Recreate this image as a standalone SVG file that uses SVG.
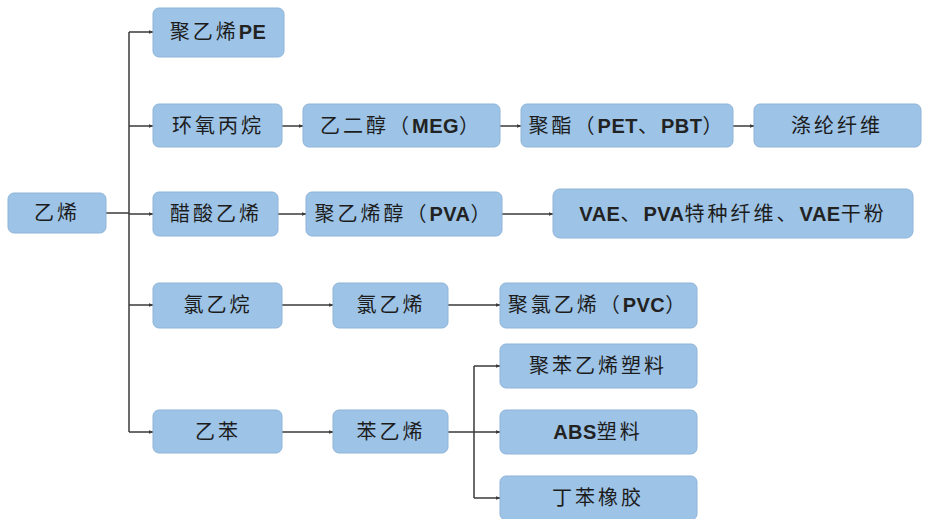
<svg xmlns="http://www.w3.org/2000/svg" width="930" height="519" viewBox="0 0 930 519">
<style>
.box{fill:#9DC3E6;stroke:#8FB4D8;stroke-width:1}
.t{font-family:"Liberation Sans","Noto Sans CJK SC",sans-serif;font-size:20px;fill:#1c1c1c;text-anchor:middle;dominant-baseline:central;letter-spacing:3px}
.l{font-weight:bold;letter-spacing:0.5px;fill:#222}
.c{fill:none;stroke:#3a3a3a;stroke-width:1.5}
</style>
<defs>
<marker id="a" viewBox="0 0 8 8" refX="7" refY="4" markerWidth="5" markerHeight="5" orient="auto" markerUnits="userSpaceOnUse">
<path d="M0,1 L8,4 L0,7 Z" fill="#3a3a3a"/>
</marker>
</defs>
<rect width="930" height="519" fill="#fff"/>
<g id="connectors">
<path class="c" d="M106,213 H129"/>
<path class="c" d="M129,32 V432"/>
<path class="c" d="M129,32 H153" marker-end="url(#a)"/>
<path class="c" d="M129,126 H153" marker-end="url(#a)"/>
<path class="c" d="M129,214 H153" marker-end="url(#a)"/>
<path class="c" d="M129,305 H153" marker-end="url(#a)"/>
<path class="c" d="M129,432 H153" marker-end="url(#a)"/>
<path class="c" d="M282,126 H303" marker-end="url(#a)"/>
<path class="c" d="M500,126 H521" marker-end="url(#a)"/>
<path class="c" d="M733,126 H754" marker-end="url(#a)"/>
<path class="c" d="M278,214 H306" marker-end="url(#a)"/>
<path class="c" d="M502,214 H553" marker-end="url(#a)"/>
<path class="c" d="M282,305 H333" marker-end="url(#a)"/>
<path class="c" d="M448,305 H500" marker-end="url(#a)"/>
<path class="c" d="M282,432 H333" marker-end="url(#a)"/>
<path class="c" d="M448,432 H474"/>
<path class="c" d="M474,366 V498"/>
<path class="c" d="M474,366 H500" marker-end="url(#a)"/>
<path class="c" d="M474,432 H500" marker-end="url(#a)"/>
<path class="c" d="M474,498 H500" marker-end="url(#a)"/>
</g>
<g id="n_yixi"><rect class="box" x="8" y="193" width="98" height="40" rx="6"/><text class="t" x="57" y="213">乙烯</text></g>
<g id="n_pe"><rect class="box" x="153" y="8" width="131" height="49" rx="6"/><text class="t" x="218" y="32">聚乙烯<tspan class="l">PE</tspan></text></g>
<g id="n_hybw"><rect class="box" x="153" y="104" width="129" height="43" rx="6"/><text class="t" x="218" y="126">环氧丙烷</text></g>
<g id="n_meg"><rect class="box" x="303" y="104" width="197" height="43" rx="6"/><text class="t" x="401" y="126">乙二醇（<tspan class="l">MEG</tspan>）</text></g>
<g id="n_pet"><rect class="box" x="521" y="104" width="212" height="43" rx="6"/><text class="t" x="627" y="126">聚酯（<tspan class="l">PET</tspan>、<tspan class="l">PBT</tspan>）</text></g>
<g id="n_dl"><rect class="box" x="754" y="104" width="167" height="43" rx="6"/><text class="t" x="837" y="126">涤纶纤维</text></g>
<g id="n_csyx"><rect class="box" x="153" y="192" width="125" height="44" rx="6"/><text class="t" x="216" y="214">醋酸乙烯</text></g>
<g id="n_pva"><rect class="box" x="306" y="192" width="196" height="44" rx="6"/><text class="t" x="404" y="214">聚乙烯醇（<tspan class="l">PVA</tspan>）</text></g>
<g id="n_vae"><rect class="box" x="553" y="189" width="360" height="49" rx="7"/><text class="t" x="733" y="214"><tspan class="l">VAE</tspan>、<tspan class="l">PVA</tspan>特种纤维、<tspan class="l">VAE</tspan>干粉</text></g>
<g id="n_lyw"><rect class="box" x="153" y="283" width="129" height="45" rx="6"/><text class="t" x="218" y="305">氯乙烷</text></g>
<g id="n_lyx"><rect class="box" x="333" y="283" width="115" height="45" rx="6"/><text class="t" x="391" y="305">氯乙烯</text></g>
<g id="n_pvc"><rect class="box" x="500" y="283" width="197" height="45" rx="6"/><text class="t" x="598" y="305">聚氯乙烯（<tspan class="l">PVC</tspan>）</text></g>
<g id="n_yb"><rect class="box" x="153" y="410" width="129" height="43" rx="6"/><text class="t" x="218" y="432">乙苯</text></g>
<g id="n_byx"><rect class="box" x="333" y="410" width="115" height="43" rx="6"/><text class="t" x="391" y="432">苯乙烯</text></g>
<g id="n_ps"><rect class="box" x="500" y="344" width="197" height="44" rx="6"/><text class="t" x="598" y="366">聚苯乙烯塑料</text></g>
<g id="n_abs"><rect class="box" x="500" y="410" width="197" height="44" rx="6"/><text class="t" x="598" y="432"><tspan class="l">ABS</tspan>塑料</text></g>
<g id="n_dbxj"><rect class="box" x="500" y="476" width="197" height="44" rx="6"/><text class="t" x="598" y="498">丁苯橡胶</text></g>
</svg>
